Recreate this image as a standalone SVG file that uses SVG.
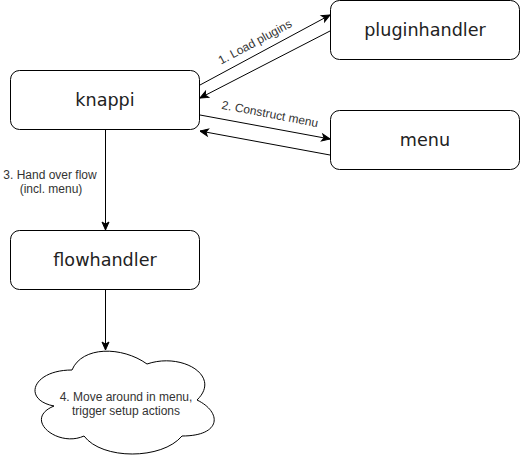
<svg xmlns="http://www.w3.org/2000/svg" width="521" height="461" viewBox="0 0 521 461">
<style>
.box{fill:#fff;stroke:#000;stroke-width:1}
.nt{font-family:"DejaVu Sans",Verdana,sans-serif;font-size:17.6px;fill:#222;text-anchor:middle}
.lt{font-family:"Liberation Sans",Arial,sans-serif;font-size:12px;fill:#333;text-anchor:middle}
.edge{fill:none;stroke:#000;stroke-width:1;marker-end:url(#arr)}
</style>
<defs>
<marker id="arr" viewBox="-10 -5 10 10" refX="0" refY="0" markerWidth="10" markerHeight="10" markerUnits="userSpaceOnUse" orient="auto">
<path d="M0,0 L-8,-3.5 L-6,0 L-8,3.5 Z" fill="#000" stroke="#000" stroke-width="1"/>
</marker>
</defs>
<rect width="521" height="461" fill="#fff"/>
<g id="connectors">
<line class="edge" x1="200" y1="85" x2="330" y2="15"/>
<line class="edge" x1="330" y1="31" x2="200" y2="98"/>
<line class="edge" x1="200" y1="115" x2="330" y2="139"/>
<line class="edge" x1="330" y1="155" x2="200" y2="131"/>
<line class="edge" x1="105.5" y1="130" x2="105.5" y2="230"/>
<line class="edge" x1="105.5" y1="290" x2="105.5" y2="350"/>
<text class="lt" transform="translate(255,42) rotate(-28.3)" y="4">1. Load plugins</text>
<text class="lt" transform="translate(270,114) rotate(10.9)" y="4">2. Construct menu</text>
<text class="lt" x="50" y="178.5">3. Hand over flow</text>
<text class="lt" x="51" y="192.5">(incl. menu)</text>
</g>
<g id="knappi">
<rect class="box" x="10.5" y="70.5" width="189" height="59" rx="9"/>
<text class="nt" x="105" y="106">knappi</text>
</g>
<g id="pluginhandler">
<rect class="box" x="330.5" y="0.5" width="189" height="59" rx="9"/>
<text class="nt" x="425" y="36">pluginhandler</text>
</g>
<g id="menu">
<rect class="box" x="330.5" y="110.5" width="189" height="59" rx="9"/>
<text class="nt" x="425" y="146">menu</text>
</g>
<g id="flowhandler">
<rect class="box" x="10.5" y="230.5" width="189" height="59" rx="9"/>
<text class="nt" x="105" y="266">flowhandler</text>
</g>
<g id="cloud">
<path class="box" d="M72,370 C32,370 22,400 54,406 C22,419.2 58,448 84,436 C102,460 162,460 182,436 C222,436 222,412 197,400 C222,376 182,352 147,364 C122,346 82,346 72,370 Z"/>
<text class="lt" x="126" y="400.5">4. Move around in menu,</text>
<text class="lt" x="126" y="414.5">trigger setup actions</text>
</g>
</svg>
